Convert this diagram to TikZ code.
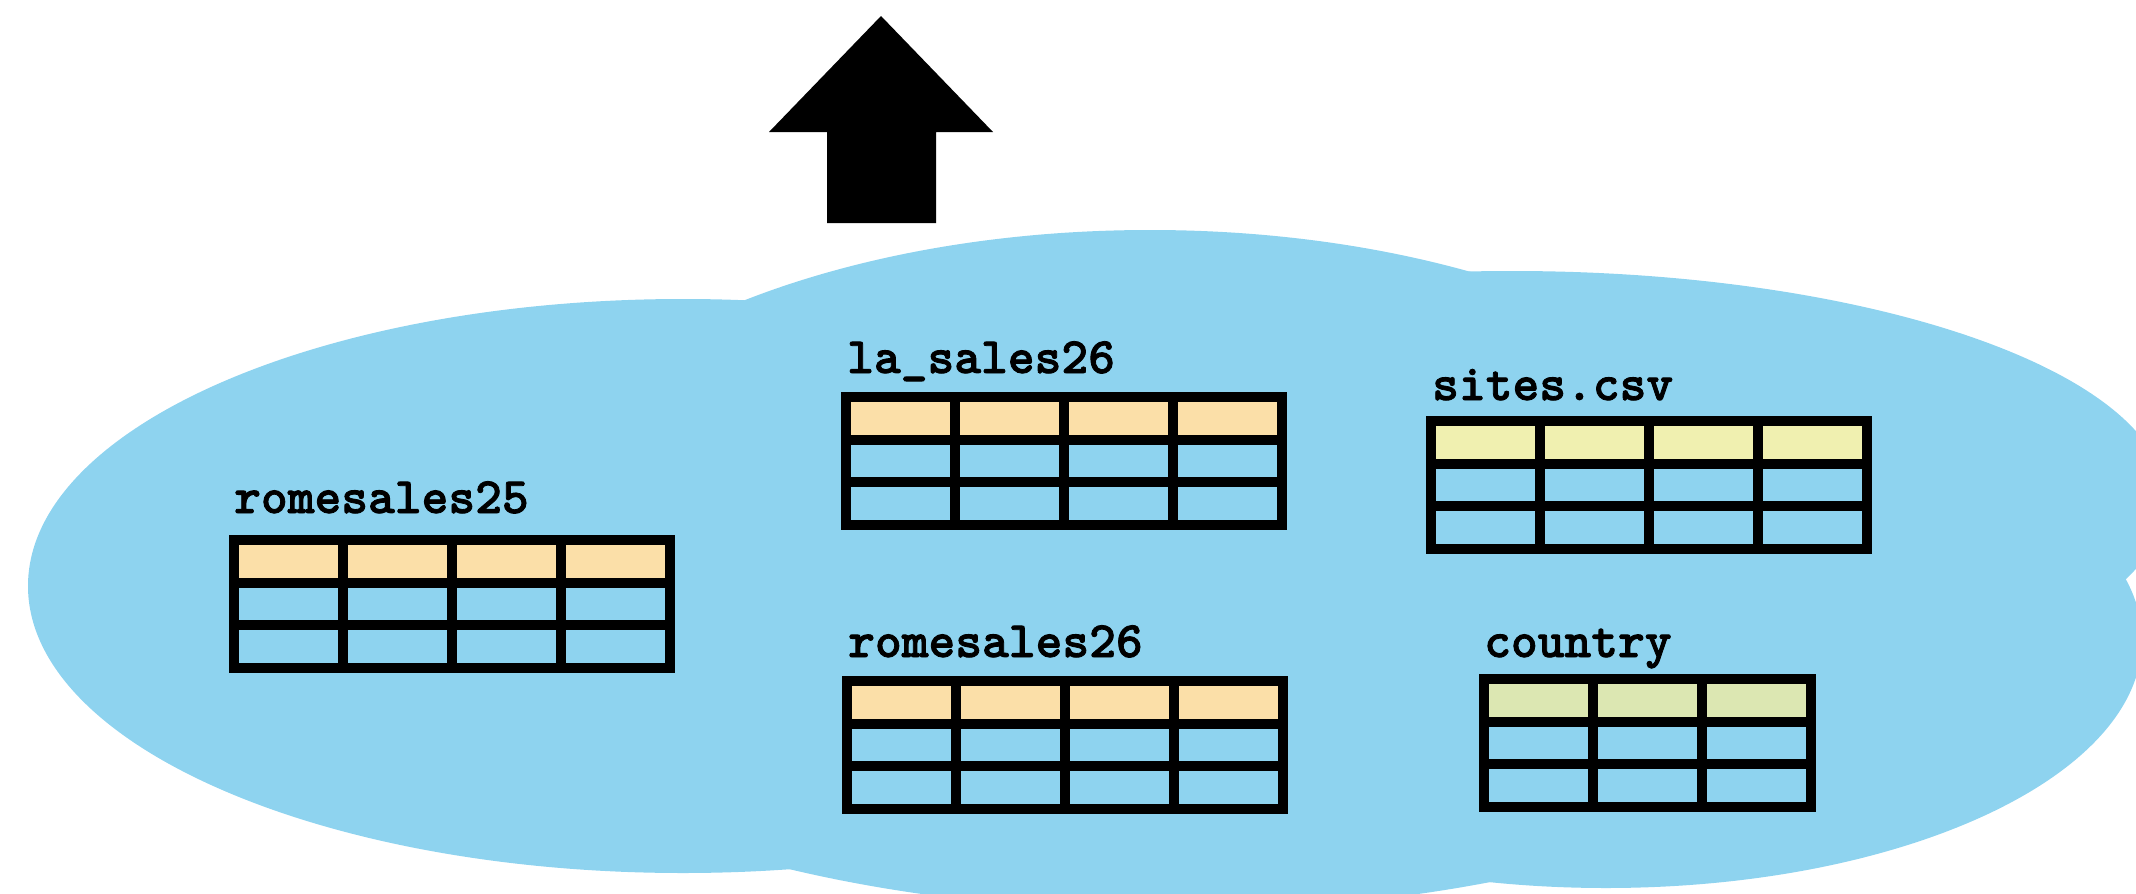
\documentclass[tikz,border=0pt]{standalone}
\usepackage{fontspec}
\newfontfamily\tablefont{lmmonolt10-bold.otf}[FakeBold=1.6]
\definecolor{lakeblue}{RGB}{142,211,239}
\definecolor{salesorange}{RGB}{251,223,168}
\definecolor{sitesyellow}{RGB}{240,240,176}
\definecolor{countrygreen}{RGB}{220,231,178}
\tikzset{
  cloudpart/.style={fill=lakeblue},
  gridline/.style={draw=black, line width=10pt, line join=miter},
  tablelabel/.style={anchor=base west, inner sep=0pt,
    font=\tablefont\fontsize{51}{56}\selectfont},
  uparrow/.style={fill=black}
}
% #1 outer left, #2 outer top, #3 number of columns, #4 header colour
\newcommand\datatable[4]{%
  \begin{scope}[shift={(#1,#2)}]
    \fill[#4] (5,5) rectangle (#3*109+5,47.5);
    \draw[gridline] (5,5) rectangle (#3*109+5,132.5);
    \draw[gridline] (5,47.5) -- (#3*109+5,47.5);
    \draw[gridline] (5,90) -- (#3*109+5,90);
    \foreach \c in {1,2,3}{%
      \ifnum\c<#3\relax
        \draw[gridline] (\c*109+5,5) -- (\c*109+5,132.5);
      \fi}
  \end{scope}}
\begin{document}
\begin{tikzpicture}[x=1pt,y=-1pt]
  \useasboundingbox (0,0) rectangle (2136,894);
  % the lake: a cloud built from overlapping ellipses
  \begin{scope}
    \clip (0,0) rectangle (2136,894);
    \fill[cloudpart] (683,586) ellipse [x radius=655pt, y radius=287pt];
    \fill[cloudpart] (1150,570) ellipse [x radius=666pt, y radius=340pt];
    \fill[cloudpart] (1170,600) ellipse [x radius=759pt, y radius=311pt];
    \fill[cloudpart] (1512,500) ellipse [x radius=654pt, y radius=229pt];
    \fill[cloudpart] (1606,640) ellipse [x radius=536pt, y radius=248pt];
  \end{scope}

  % outgoing arrow
  \fill[uparrow] (881,16) -- (993,132) -- (936,132) -- (936,223)
    -- (827,223) -- (827,132) -- (769,132) -- cycle;

  % tables
  \datatable{229}{535}{4}{salesorange}
  \datatable{841}{392}{4}{salesorange}
  \datatable{842}{676}{4}{salesorange}
  \datatable{1426}{416}{4}{sitesyellow}
  \datatable{1479}{674}{3}{countrygreen}

  % table names
  \node[tablelabel] (rome25) at (234,513) {romesales25};
  \node[tablelabel] (la26) at (847,373) {la\_sales26};
  \node[tablelabel] (rome26) at (848,657) {romesales26};
  \node[tablelabel] (sites) at (1432,400) {sites.csv};
  \node[tablelabel] (country) at (1484,657) {country};
\end{tikzpicture}
\end{document}
